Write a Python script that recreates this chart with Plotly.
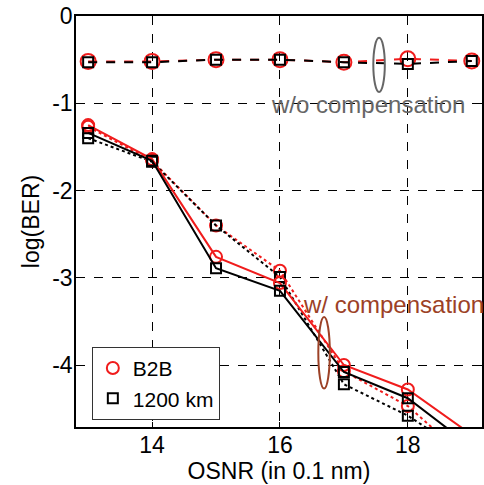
import plotly.graph_objects as go

# OSNR points
osnr = [13, 14, 15, 16, 17, 18, 19]

# w/o compensation (dashed)
b2b_wo = [-0.52, -0.52, -0.50, -0.50, -0.53, -0.49, -0.515]
km1200_wo = [-0.53, -0.53, -0.50, -0.50, -0.53, -0.55, -0.515]

# w/ compensation, solid and dotted sets
b2b_solid = [-1.25, -1.64, -2.76, -3.06, -4.00, -4.28, -4.80]
km1200_solid = [-1.34, -1.66, -2.89, -3.15, -4.08, -4.38, -4.94]
b2b_dot = [-1.27, -1.66, -2.40, -2.92, -4.07, -4.47, -5.12]
km1200_dot = [-1.40, -1.67, -2.40, -2.99, -4.22, -4.58, -5.06]

ytick_vals = [0, -1, -2, -3, -4]
ytick_text = ["0", "-1", "-2", "-3", "-4"]
xtick_vals = [14, 16, 18]
xtick_text = ["14", "16", "18"]

RED = "#f01c1c"
BLACK = "#000000"
FONT = "Arial, Liberation Sans, sans-serif"

fig = go.Figure()


def add_series(y, color, dash, symbol, size):
    fig.add_trace(go.Scatter(
        x=osnr, y=y, mode="lines+markers", showlegend=False,
        line=dict(color=color, width=2, dash=dash),
        marker=dict(symbol=symbol, size=size, color=color,
                    line=dict(color=color, width=2)),
    ))


# w/ compensation
add_series(b2b_dot, RED, "dot", "circle-open", 12)
add_series(km1200_dot, BLACK, "dot", "square-open", 10)
add_series(b2b_solid, RED, "solid", "circle-open", 12)
add_series(km1200_solid, BLACK, "solid", "square-open", 10)
# w/o compensation
add_series(b2b_wo, RED, "dash", "circle-open", 15)
add_series(km1200_wo, BLACK, "dash", "square-open", 10)

# legend-only entries (marker only, as in the original)
fig.add_trace(go.Scatter(x=[None], y=[None], mode="markers", name="B2B",
                         marker=dict(symbol="circle-open", size=12,
                                     line=dict(color=RED, width=2), color=RED)))
fig.add_trace(go.Scatter(x=[None], y=[None], mode="markers", name="1200 km",
                         marker=dict(symbol="square-open", size=10,
                                     line=dict(color=BLACK, width=2), color=BLACK)))

# ellipses marking the groups
fig.add_shape(type="circle", xref="x", yref="y",
              x0=17.46, x1=17.64, y0=-0.87, y1=-0.25,
              line=dict(color="#666666", width=2))
fig.add_shape(type="circle", xref="x", yref="y",
              x0=16.60, x1=16.78, y0=-4.27, y1=-3.45,
              line=dict(color="#9c4126", width=2))

fig.add_annotation(x=17.38, y=-1.01, xref="x", yref="y", text="w/o compensation",
                   showarrow=False, font=dict(family=FONT, size=24, color="#666666"))
fig.add_annotation(x=17.78, y=-3.31, xref="x", yref="y", text="w/ compensation",
                   showarrow=False, font=dict(family=FONT, size=24, color="#9c4126"))

axis_common = dict(
    showline=True, linecolor="black", linewidth=1.5, mirror="ticks",
    ticks="inside", ticklen=5, tickcolor="black",
    showgrid=True, gridcolor="black", gridwidth=1, griddash="dash",
    zeroline=False, automargin=False, ticklabelstandoff=-3,
    tickfont=dict(family=FONT, size=23, color="black"),
)

fig.update_xaxes(range=[12.81, 19.16], tickvals=xtick_vals, ticktext=xtick_text,
                 title=dict(text="OSNR (in 0.1 nm)", font=dict(family=FONT, size=23),
                            standoff=2),
                 **axis_common)
fig.update_yaxes(range=[-4.71, 0], tickvals=ytick_vals, ticktext=ytick_text,
                 title=dict(text="log(BER)", font=dict(family=FONT, size=23),
                            standoff=6),
                 **axis_common)

fig.update_layout(
    width=484, height=485,
    margin=dict(l=76, r=2, t=16, b=58),
    plot_bgcolor="white", paper_bgcolor="white",
    font=dict(family=FONT, color="black"),
    legend=dict(x=0.039, y=0.195, xanchor="left", yanchor="top",
                bgcolor="white", bordercolor="#333333", borderwidth=1,
                font=dict(family=FONT, size=21, color="black")),
)

# page body has a default 8px margin; remove it so the figure sits at 0,0
fig.write_html("out.html", config={"displayModeBar": False},
               post_script="document.body.style.margin='0';")
